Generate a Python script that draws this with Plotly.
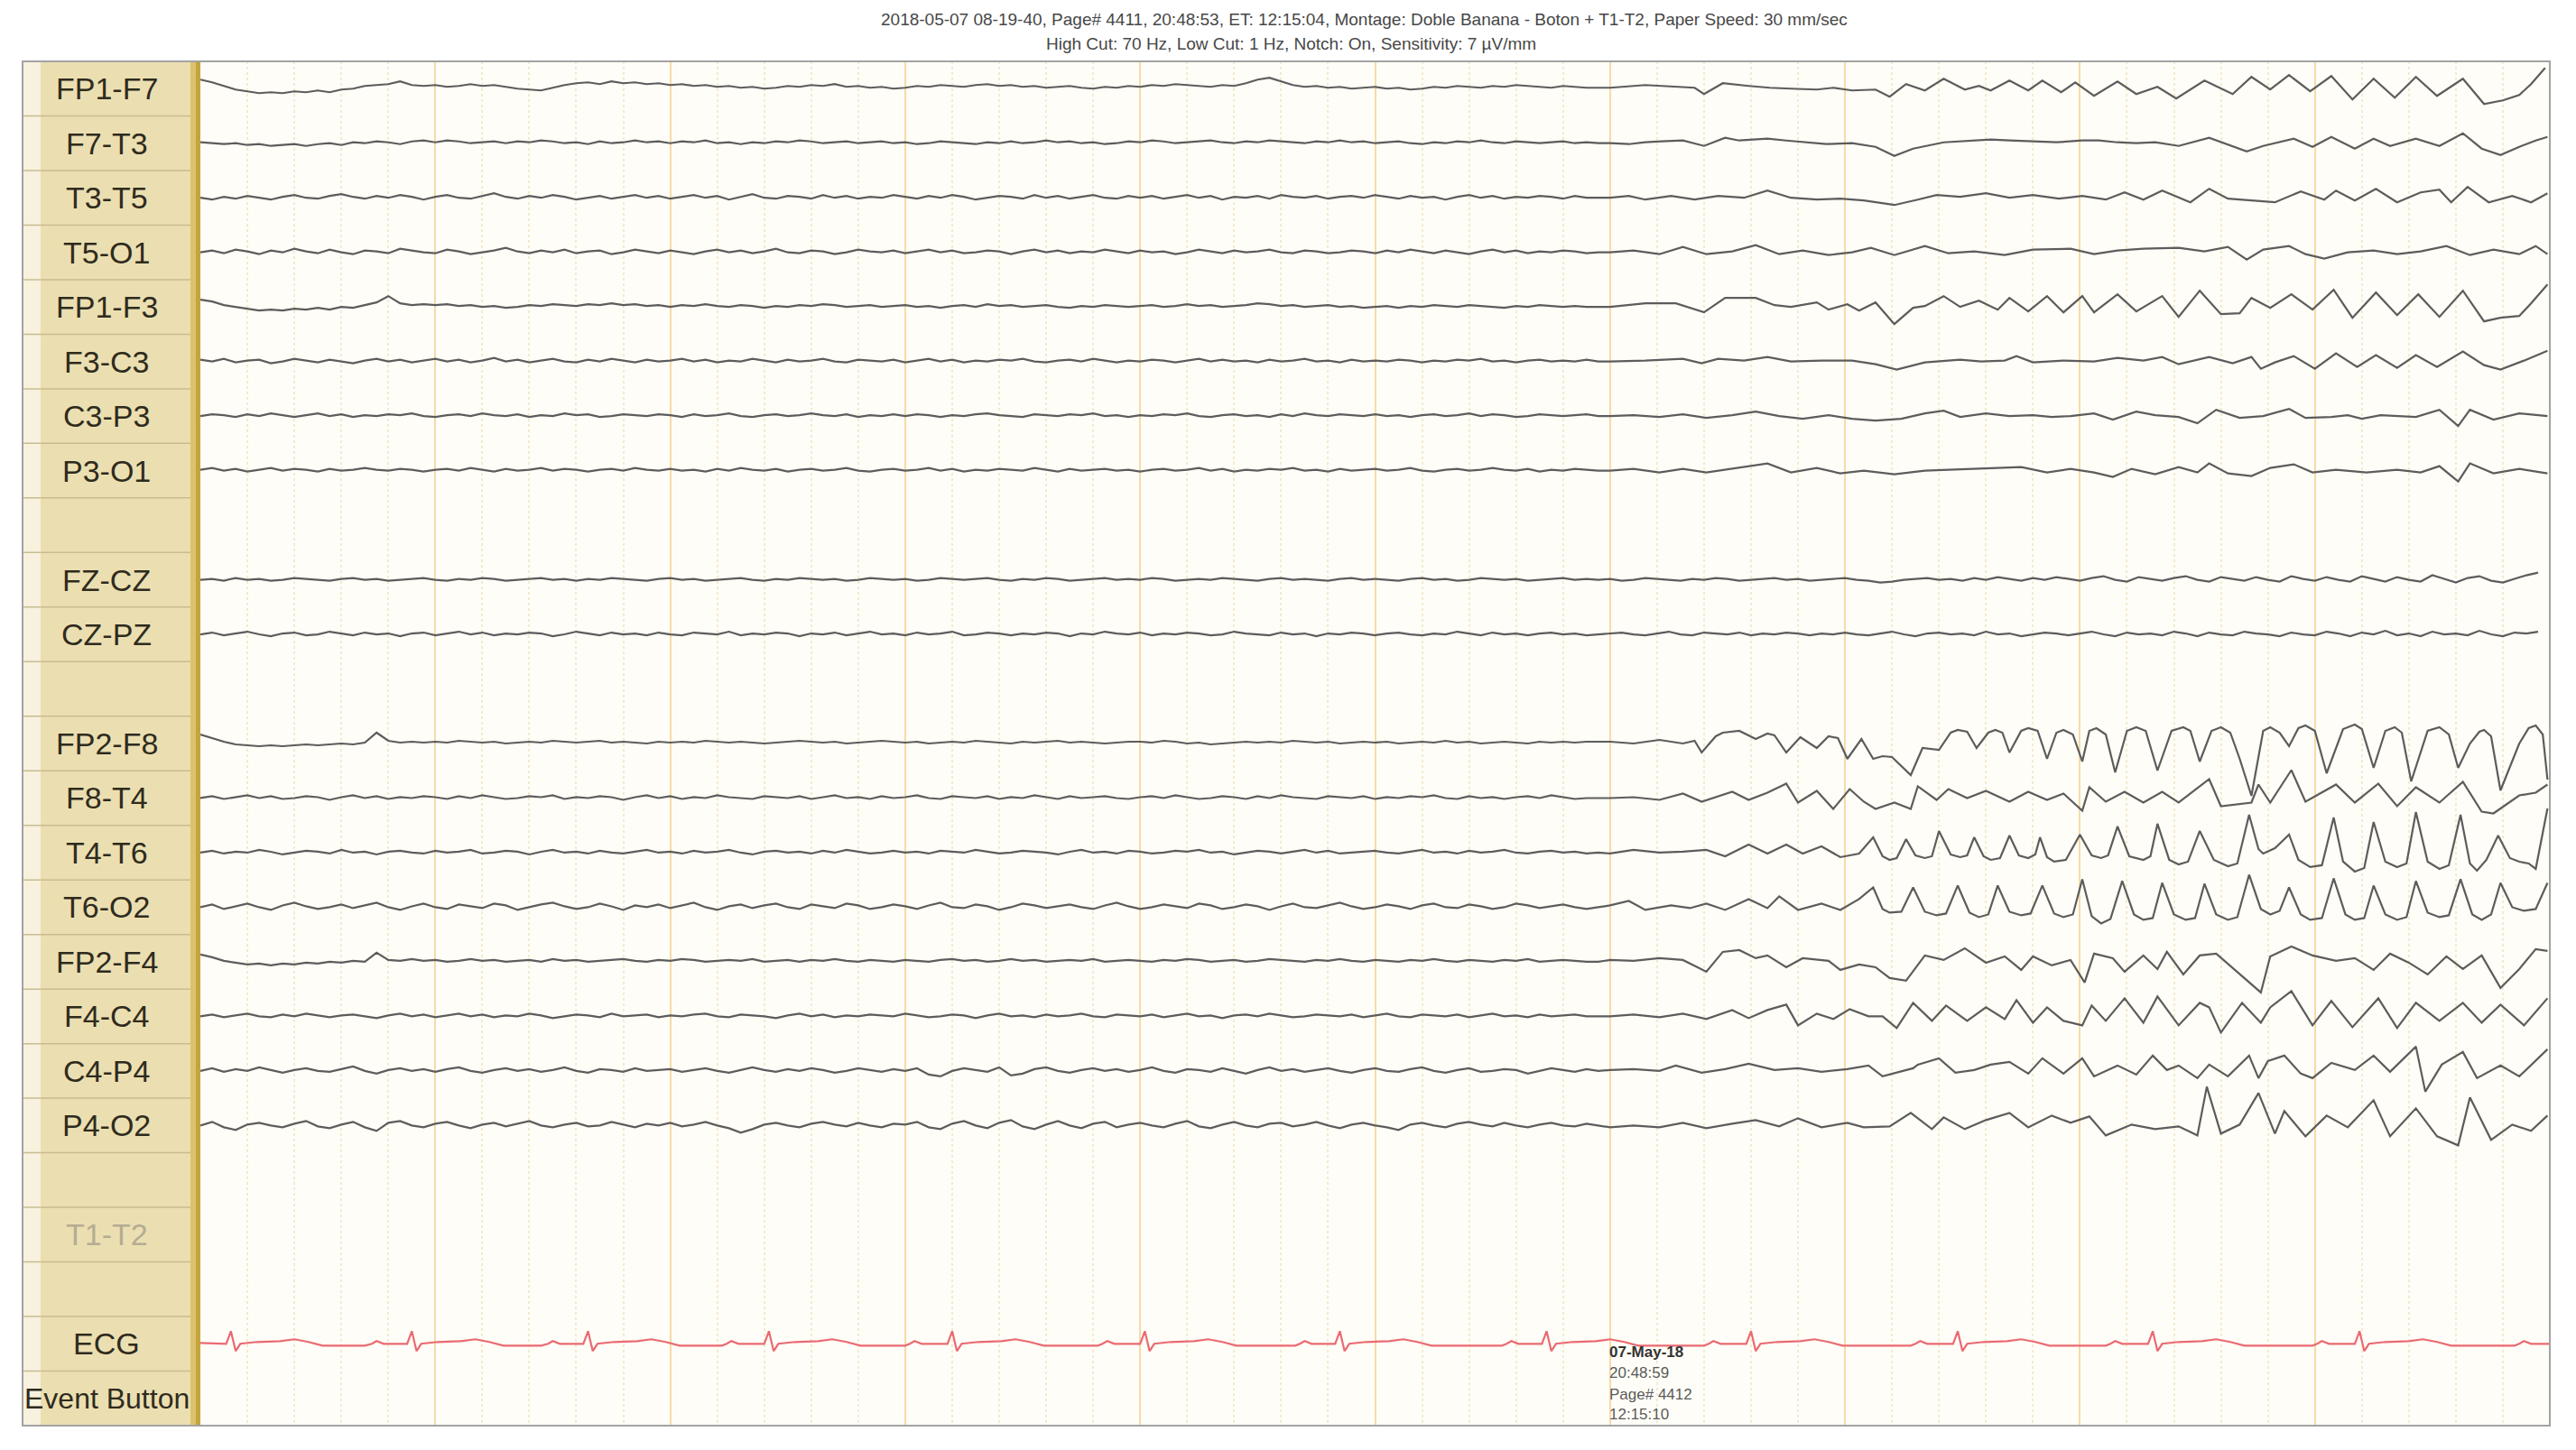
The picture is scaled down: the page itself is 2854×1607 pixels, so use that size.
import plotly.graph_objects as go

# ---------------- layout data ----------------
ROW_LABELS = ["FP1-F7", "F7-T3", "T3-T5", "T5-O1", "FP1-F3", "F3-C3", "C3-P3", "P3-O1", "",
              "FZ-CZ", "CZ-PZ", "", "FP2-F8", "F8-T4", "T4-T6", "T6-O2", "FP2-F4", "F4-C4",
              "C4-P4", "P4-O2", "", "T1-T2", "", "ECG", "Event Button"]
DIMMED_LABELS = ["T1-T2"]
HEADER_1 = "2018-05-07 08-19-40, Page# 4411, 20:48:53, ET: 12:15:04, Montage: Doble Banana - Boton + T1-T2, Paper Speed: 30 mm/sec"
HEADER_2 = "High Cut: 70 Hz, Low Cut: 1 Hz, Notch: On, Sensitivity: 7 \u00b5V/mm"
PAGE_MARK = ["<b>07-May-18</b>", "20:48:59", "Page# 4412", "12:15:10"]
PAGE_MARK_TIME = 6.0
SECONDS = 10.0
STEP = 0.05          # background sample step (s)
PX_PER_ROW = 60.48   # vertical deflection units per channel row

# ---------------- EEG values ----------------
# *_bg : deflection every 0.05 s from t=0 ; *_sz : (centisecond, deflection) turning points
fp1_f7_bg = [10,7,3,-1,-3,-5,-4,-5,-3,-4,-2,-4,-1,0,3,4,5,8,4,3,
             4,2,3,5,3,4,2,0,-1,-2,1,4,6,7,5,8,6,7,5,6,
             4,5,3,4,2,3,1,2,0,1,3,2,4,3,5,2,3,1,2,0,
             1,3,2,4,3,2,4,5,3,4,2,3,1,2,3,1,0,2,1,3,
             2,4,3,5,4,3,2,4,3,6,10,12,8,4,2,3,1,2,0,1,
             2,0,1,-1,0,2,1,3,2,1,3,2,4,3,2,1,3,2,1,1]
fp1_f7_sz = [(600,1),(615,4),(636,1),(640,-6),(648,6),(659,3),(668,1),(677,0),(688,-1),(695,1),(703,-2),
             (713,-1),(719,-9),(726,5),(734,-2),(742,11),(751,-1),(757,3),(762,-2),(770,9),(778,-2),
             (784,9),(792,-4),(798,7),(806,-8),(816,8),(824,-6),(833,2),(841,-11),(853,9),(865,-6),
             (873,13),(881,-1),(889,15),(898,-3),(907,14),(916,-12),(925,11),(934,-10),(943,13),
             (952,-8),(963,11),(972,-17),(980,-13),(987,-7),(992,5),(998,23)]

f7_t3_bg = [1,0,-1,0,-2,-1,-3,-2,-1,-3,-1,0,-2,1,0,2,1,-1,2,3,
            1,3,2,0,1,2,0,2,1,3,2,0,1,-1,2,0,1,3,1,2,
            0,2,1,3,0,1,-1,1,0,2,1,3,2,0,1,2,0,1,2,0,
            1,-1,0,2,1,0,-1,1,0,2,0,1,3,1,2,0,1,-1,0,2,
            1,3,2,0,1,2,3,1,0,2,1,3,2,1,0,2,1,3,1,2,
            0,1,2,0,-1,1,0,2,1,3,1,0,2,1,0,1,2,0,1,0]
f7_t3_sz = [(600,0),(608,-1),(615,1),(622,2),(631,3),(640,-3),(649,6),(655,3),(667,5),(675,3),(685,1),
            (692,-1),(703,0),(713,-4),(721,-14),(729,-6),(742,1),(750,2),(762,4),(770,3),(780,2),
            (790,1),(801,3),(808,3),(816,1),(824,0),(832,1),(842,-3),(855,6),(871,-9),(878,-3),
            (891,5),(899,-4),(907,7),(917,-6),(925,5),(932,-3),(943,5),(953,-3),(963,11),(971,-6),
            (979,-13),(987,-4),(994,3),(999,7)]

t3_t5_bg = [0,-2,1,-1,2,0,-2,1,3,0,-1,2,4,1,-1,2,0,3,1,-2,
            1,3,0,-1,2,5,1,-1,2,0,3,1,-2,0,2,-1,1,3,0,2,
            -1,1,3,0,2,-2,1,4,0,-1,2,1,-1,3,0,2,-1,1,0,3,
            1,-1,2,0,3,1,-2,0,2,1,-1,3,0,2,-1,1,3,0,-1,2,
            0,2,-1,1,3,0,2,-2,1,0,2,-1,3,1,0,2,-1,1,2,0,
            3,1,-1,2,0,1,-2,1,3,0,2,-1,1,0,2,1,-1,2,0,0]
t3_t5_sz = [(600,0),(608,2),(615,-2),(626,2),(636,-2),(646,2),(657,0),(667,8),(677,0),(688,-2),(698,-1),
            (708,-3),(721,-8),(731,-2),(739,3),(749,1),(760,5),(770,0),(780,3),(791,-1),(801,2),
            (811,-2),(819,6),(827,-2),(835,8),(847,-5),(855,10),(863,-1),(873,-3),(883,-5),(894,7),
            (904,-2),(909,8),(917,-3),(926,10),(935,-5),(945,6),(953,9),(958,-5),(965,12),(974,-5),
            (984,2),(992,-5),(999,5)]

t5_o1_bg = [0,2,-1,3,1,-2,2,0,4,1,-1,3,0,-2,2,1,-1,4,2,0,
            -1,3,1,-2,0,2,5,1,-1,2,0,3,-1,1,2,-2,0,3,1,-1,
            2,0,-2,1,3,0,2,-1,1,4,0,-1,2,1,-2,0,3,1,0,2,
            -1,1,3,0,2,-1,0,2,1,-2,1,3,0,2,-1,1,0,3,1,-1,
            2,0,1,-2,0,3,1,-1,2,0,1,3,0,-1,2,1,-1,0,2,1,
            -1,2,0,3,1,-1,2,0,-2,1,3,0,2,-1,1,0,2,1,-1,0]
t5_o1_sz = [(600,0),(610,2),(621,-2),(631,6),(641,-2),(652,1),(662,8),(672,-2),(682,2),(693,-3),(703,0),
            (711,5),(721,-3),(734,7),(744,-1),(755,1),(768,-3),(780,3),(796,4),(806,-2),(816,2),
            (827,4),(842,5),(853,1),(863,6),(871,-8),(878,3),(889,7),(896,-2),(904,-7),(914,0),
            (925,2),(935,-2),(945,1),(956,7),(966,-3),(976,3),(987,-2),(994,7),(999,-2)]

fp1_f3_bg = [8,6,2,0,-2,-4,-3,-4,-2,-3,-1,-3,0,-1,2,5,12,4,2,3,
             2,3,1,2,0,1,-1,0,2,1,3,2,1,3,2,4,2,3,1,2,
             0,2,1,3,1,0,2,1,-1,1,0,2,1,3,2,0,1,2,0,1,
             2,0,1,-1,1,2,0,3,1,2,0,1,2,0,-1,1,0,2,1,0,
             1,2,0,1,3,1,2,0,1,2,4,3,1,2,0,1,2,0,1,-1,
             0,1,-1,1,0,2,1,0,2,1,0,-1,1,0,2,1,0,1,0,0]
fp1_f3_sz = [(600,0),(615,4),(628,4),(640,-6),(649,10),(662,10),(670,2),(677,0),(688,5),(693,-3),(701,3),
             (706,-4),(713,5),(721,-19),(729,-1),(734,1),(742,12),(749,0),(757,7),(765,-3),(770,10),
             (778,-5),(786,12),(793,-6),(801,12),(806,-6),(816,14),(824,-5),(835,12),(842,-11),
             (851,18),(860,-8),(868,-7),(873,10),(881,-1),(890,14),(899,-3),(908,19),(916,-12),
             (926,16),(935,-9),(944,14),(953,-11),(963,18),(972,-16),(979,-12),(987,-10),(992,4),(999,25)]

f3_c3_bg = [2,0,3,-1,1,2,-2,0,3,1,-1,2,0,-2,1,3,0,2,-1,1,
            3,0,2,-1,1,4,0,2,-1,1,3,0,-1,2,0,3,1,-1,2,0,
            1,3,0,2,-1,1,0,3,1,-1,2,0,1,3,0,-1,2,1,0,2,
            -1,1,3,0,2,-1,1,0,2,1,3,0,-1,1,2,0,3,1,-1,1,
            0,2,1,-1,1,3,0,2,0,1,-1,2,0,1,3,0,1,-1,2,0,
            1,0,2,1,-1,1,0,2,1,3,0,1,-1,1,2,0,1,0,2,0]
f3_c3_sz = [(600,0),(615,1),(631,3),(639,-2),(646,3),(657,1),(667,5),(677,0),(690,1),(703,1),(713,-3),
            (722,-9),(734,-1),(749,2),(758,0),(768,1),(773,6),(780,-1),(793,1),(806,0),(816,4),
            (827,1),(835,5),(842,-3),(855,5),(865,-2),(873,5),(877,-8),(883,-1),(891,6),(900,-8),
            (909,9),(918,-6),(926,7),(935,-7),(943,7),(952,-6),(963,11),(972,-4),(979,-9),(989,1),(999,12)]

c3_p3_bg = [0,2,1,-1,2,0,3,1,-1,1,3,0,2,-1,1,0,2,1,3,0,
            -1,1,2,0,3,1,0,2,-1,1,0,3,1,2,-1,0,2,1,0,2,
            1,-1,2,0,1,3,0,-1,1,2,0,1,3,1,0,2,-1,1,0,2,
            0,2,1,-1,1,0,2,3,1,0,-1,2,1,0,2,1,3,0,1,-1,
            1,0,2,1,3,0,-1,1,2,0,1,-1,2,0,3,1,0,2,1,0,
            2,0,1,-1,1,2,0,1,3,0,2,1,-1,0,2,1,0,1,2,0]
c3_p3_sz = [(600,0),(610,1),(621,-1),(631,2),(641,-2),(652,1),(662,5),(672,0),(682,-3),(693,1),(703,-3),
            (713,-5),(724,-3),(734,3),(742,6),(749,-1),(760,3),(770,0),(780,1),(788,-1),(796,0),
            (806,3),(814,-4),(824,5),(832,1),(842,-1),(850,-8),(858,7),(868,-2),(878,0),(889,8),
            (896,-2),(907,-1),(914,1),(920,-3),(928,1),(935,0),(943,-1),(953,7),(961,-11),(966,7),
            (976,-4),(987,3),(999,0)]

p3_o1_bg = [1,3,0,2,-1,1,3,0,2,1,-1,2,0,1,3,1,0,2,1,-1,
            1,2,0,3,1,-1,2,0,1,3,0,2,1,-1,1,2,0,3,1,0,
            2,0,1,-1,2,0,3,1,0,2,-1,1,2,0,1,3,0,-1,1,2,
            0,1,3,0,2,-1,1,0,2,1,0,3,1,-1,2,0,1,2,0,1,
            -1,1,2,0,1,3,0,2,-1,1,0,2,1,3,0,1,-1,2,0,1,
            2,0,1,3,0,-1,1,2,0,1,3,1,0,2,-1,1,0,2,1,0]
p3_o1_sz = [(600,0),(610,2),(621,-2),(631,2),(641,-2),(652,2),(667,8),(677,-2),(688,3),(698,-3),(708,0),
            (721,-4),(734,0),(744,1),(755,2),(765,3),(775,4),(786,-2),(796,2),(806,-2),(814,-7),
            (822,2),(832,-4),(842,4),(850,-2),(855,8),(863,-3),(873,-6),(881,3),(891,7),(899,-2),
            (909,1),(922,-2),(935,1),(945,-2),(953,5),(961,-12),(966,8),(976,-3),(987,2),(999,-3)]

fz_cz_bg = [0,1,-1,2,0,1,-1,0,2,1,0,-1,1,2,0,1,-1,0,1,2,
            0,-1,1,0,2,1,-1,0,1,2,0,1,-1,1,0,2,1,0,-1,1,
            2,0,1,-1,0,1,2,0,-1,1,0,2,1,0,1,-1,0,2,1,0,
            1,-1,0,2,1,0,1,2,0,-1,1,0,2,1,-1,0,1,2,0,1,
            0,2,1,-1,0,1,0,2,1,0,-1,1,2,0,1,0,-1,1,2,0,
            1,0,-1,1,2,0,1,-1,0,2,1,0,1,-1,0,1,2,0,1,0,
            1,-1,0,2,1,0,-1,1,0,2,1,-1,0,1,2,0,1,-1,0,1,
            2,0,-1,-3,-2,0,1,2,0,1,-1,2,0,3,1,-1,2,0,3,1,
            -1,2,4,0,-2,3,1,-1,2,4,0,-2,3,1,-1,3,0,-2,4,1,
            -1,3,0,-2,4,1,-2,3,0,-2,5,1,-3,2,4,-1,-3,1,5,8]
fz_cz_sz = []

cz_pz_bg = [0,2,-1,1,3,0,-2,1,2,-1,0,3,1,-1,2,0,1,-2,1,2,
            -1,1,3,0,2,-1,1,0,2,1,-2,0,3,1,-1,2,0,1,-1,2,
            0,-1,2,1,0,3,-1,1,0,2,1,-2,1,0,2,-1,1,3,0,1,
            -1,2,0,1,3,-1,0,2,1,-1,1,0,2,1,-2,1,0,3,1,0,
            2,-1,1,0,2,1,-1,0,3,1,0,-1,2,0,1,-2,1,0,2,1,
            -1,1,2,0,-1,1,0,3,1,-1,2,0,1,-1,1,2,0,1,-1,0,
            1,2,0,-1,1,3,0,-1,2,1,0,2,-1,1,0,2,1,-1,1,0,
            2,0,-1,1,3,0,-2,1,2,0,1,-1,3,0,1,-2,0,2,1,-1,
            1,3,0,-2,2,0,1,-1,3,1,-2,2,0,-1,3,1,0,-2,2,0,
            -1,3,1,-2,2,0,4,-1,1,-2,3,0,1,-1,4,0,-2,2,1,3]
cz_pz_sz = []

fp2_f8_bg = [10,6,2,-1,-2,-3,-2,-3,-2,-1,-2,-1,0,-1,1,12,3,1,2,1,
             2,1,3,2,1,2,0,1,2,1,3,2,1,2,3,1,2,1,0,2,
             1,2,1,3,2,1,2,1,0,1,2,3,2,1,2,0,1,2,3,2,
             1,2,0,1,2,1,3,2,1,0,2,1,2,3,1,2,1,0,1,2,
             2,1,3,2,0,1,-1,0,1,2,1,2,1,3,2,1,2,0,1,2,
             1,2,0,1,2,1,3,1,2,0,1,2,1,0,2,1,2,1,2,2]
fp2_f8_sz = [(600,2),(610,0),(621,4),(631,0),(636,3),(639,-10),(645,8),(648,12),(652,13),(655,14),
             (662,5),(667,11),(670,9),(675,-10),(681,7),(688,-5),(693,8),(697,6),(701,-17),(707,5),
             (712,-17),(716,-14),(720,-15),(728,-35),(733,-5),(740,-7),(745,12),(748,15),(752,13),
             (756,-5),(761,12),(764,15),(767,12),(770,-10),(775,14),(778,17),(782,14),(786,-17),
             (790,12),(793,15),(797,10),(801,-20),(804,14),(807,17),(811,10),(815,-32),(820,14),
             (824,18),(828,14),(833,-30),(839,14),(844,18),(847,14),(851,-20),(856,14),(860,18),
             (864,12),(868,-17),(873,-58),(878,14),(881,18),(885,12),(889,-3),(893,17),(896,20),
             (900,14),(905,-33),(912,16),(917,21),(920,16),(925,-27),(930,14),(934,18),(937,12),
             (941,-42),(948,14),(953,18),(957,10),(961,-27),(966,0),(970,13),(972,15),(975,8),
             (979,-52),(987,0),(991,17),(994,20),(997,10),(999,-40)]

f8_t4_bg = [0,2,-1,1,3,0,2,-1,0,2,1,-2,1,3,0,2,-1,1,0,2,
            1,-1,2,0,3,1,-1,0,2,1,3,-1,1,0,2,1,-2,1,3,0,
            2,-1,1,0,3,1,0,-1,2,1,0,2,-1,1,3,0,1,-1,2,0,
            1,3,0,-1,2,1,0,2,-1,1,0,3,1,-1,2,0,1,2,0,-1,
            1,2,0,3,1,-1,0,2,1,-1,2,0,3,1,0,-1,2,1,0,2,
            -1,1,0,2,1,3,0,-1,2,0,1,-1,1,2,0,3,1,-1,0,0]
f8_t4_sz = [(600,0),(610,1),(621,-2),(631,5),(639,-4),(652,7),(659,-2),(667,6),(675,16),(680,-5),
            (688,8),(695,-12),(702,10),(708,-4),(713,-12),(721,-5),(728,-12),(731,13),(739,-2),
            (744,10),(752,0),(760,8),(770,-4),(778,7),(786,-2),(793,5),(801,-14),(804,12),(811,-4),
            (819,7),(827,-5),(835,7),(842,-5),(855,21),(860,-9),(873,-5),(876,15),(881,-5),(890,31),
            (896,-4),(909,15),(917,-5),(927,16),(935,-9),(943,12),(953,-5),(963,18),(971,-15),
            (976,-17),(987,3),(994,6),(999,15)]

t4_t6_bg = [0,2,-1,1,0,3,1,-2,0,2,1,-1,3,0,1,-2,1,2,0,-1,
            2,0,1,3,-1,0,2,1,-2,1,3,0,1,-1,2,0,-1,1,3,0,
            1,-1,2,0,1,3,0,-2,1,2,0,1,-1,2,0,3,1,-1,0,2,
            0,1,-1,2,1,0,3,1,-1,0,2,1,0,-2,1,3,0,1,-1,2,
            1,-1,0,2,1,3,0,1,-2,0,2,1,-1,1,3,0,2,-1,0,1,
            2,0,-1,1,3,0,1,-1,2,0,1,3,0,-1,1,2,0,1,-1,0]
t4_t6_sz = [(600,-1),(610,3),(621,0),(631,1),(641,3),(649,-4),(659,9),(667,-1),(675,9),(682,-1),
            (690,7),(698,-5),(706,-1),(712,17),(716,-4),(719,-8),(722,-6),(726,15),(730,-3),(734,-6),
            (737,-4),(740,24),(745,-2),(749,-5),(752,-3),(755,17),(759,-4),(762,-8),(766,-6),(770,19),
            (774,-3),(778,-6),(781,-2),(783,17),(786,-5),(789,-10),(794,-8),(800,20),(805,-3),(809,-6),
            (812,-3),(816,29),(821,-4),(827,-8),(830,-4),(833,32),(838,-8),(842,-13),(846,-10),(851,24),
            (857,-8),(863,-15),(867,-12),(872,42),(876,4),(878,-1),(883,5),(889,20),(893,-8),(898,-16),
            (903,-14),(908,39),(912,-10),(917,-21),(921,-17),(925,34),(930,-10),(935,-16),(939,-12),
            (943,45),(948,-10),(953,-18),(957,-14),(962,42),(966,-12),(969,-20),(973,-8),(978,19),
            (983,-6),(987,-10),(991,-12),(994,-18),(999,49)]

t6_o2_bg = [0,3,-2,1,4,0,-3,2,5,1,-2,0,3,-1,2,5,0,-3,1,4,
            0,-2,3,1,-1,4,2,-3,0,3,5,1,-2,0,4,1,-3,2,0,3,
            -1,2,5,0,-3,1,3,-1,2,4,0,-2,3,1,-1,4,2,-2,0,3,
            1,-2,2,5,0,-1,3,1,-3,0,4,2,-1,1,3,0,-2,2,5,1,
            -2,0,3,1,-1,4,2,-2,0,3,1,-3,1,4,0,-1,2,5,1,-2,
            0,3,1,-2,2,4,0,-1,3,1,-2,0,4,2,-1,1,3,0,-2,0]
t6_o2_sz = [(600,2),(608,7),(615,-3),(626,2),(634,-1),(641,4),(649,-3),(659,9),(667,-1),(672,12),
            (680,-3),(690,4),(698,-3),(706,9),(712,22),(716,-2),(719,-6),(724,-5),(729,22),(734,-5),
            (739,-9),(743,-7),(748,24),(753,-6),(757,-11),(761,-8),(765,24),(770,-5),(775,-9),
            (779,-7),(784,24),(789,-7),(793,-11),(797,-8),(801,31),(805,-10),(809,-18),(813,-13),
            (818,29),(823,-8),(827,-14),(831,-12),(835,27),(840,-8),(845,-14),(849,-12),(853,26),
            (858,-8),(863,-14),(867,-11),(872,36),(877,-2),(881,-8),(885,-4),(889,22),(894,-8),
            (898,-14),(903,-12),(908,32),(913,-8),(917,-14),(921,-12),(925,24),(930,-8),(935,-14),
            (939,-11),(943,29),(948,-6),(953,-11),(957,-9),(962,31),(967,-8),(971,-14),(975,-8),
            (979,27),(984,0),(989,-4),(994,-2),(999,27)]

fp2_f4_bg = [8,5,1,-1,-3,-2,-4,-2,-3,-1,-2,0,-1,1,0,10,2,1,3,1,
             2,0,1,3,1,2,0,1,2,0,3,1,2,0,1,2,3,1,0,2,
             1,3,2,0,1,2,1,3,0,1,2,0,2,1,3,1,0,2,1,0,
             2,1,0,2,3,1,2,0,1,3,1,2,0,1,2,1,3,0,1,2,
             1,0,2,1,3,2,0,1,2,0,1,3,2,1,0,2,1,3,1,0,
             2,1,0,2,1,3,1,0,2,1,0,2,1,3,0,1,2,1,0,0]
fp2_f4_sz = [(600,2),(610,1),(621,4),(631,2),(641,-11),(648,11),(655,13),(662,4),(667,7),(675,-6),
             (682,4),(693,1),(698,-9),(706,-3),(713,-6),(719,-18),(726,-21),(734,7),(742,2),(751,15),
             (760,-1),(768,6),(775,-9),(780,6),(788,-4),(796,2),(802,-23),(806,9),(814,4),(819,-11),
             (827,7),(833,-8),(837,11),(844,-14),(851,7),(858,9),(869,-16),(877,-34),(881,6),(890,17),
             (899,7),(909,1),(917,4),(925,-9),(932,9),(940,-1),(948,-14),(956,6),(963,-8),(971,7),
             (979,-29),(987,-8),(994,14),(999,12)]

f4_c4_bg = [0,2,-1,1,3,0,-1,2,0,3,1,-1,1,2,0,-2,1,3,0,2,
            -1,1,3,0,2,-1,1,0,3,1,-2,0,2,1,-1,3,0,1,2,-1,
            1,0,2,3,0,-1,2,1,0,-2,1,3,0,2,-1,1,0,2,1,0,
            3,1,-1,0,2,1,-2,1,3,0,1,-1,2,0,1,3,0,-1,2,1,
            0,2,-1,1,3,0,1,-2,1,2,0,3,1,-1,0,2,1,0,2,-1,
            1,3,0,-1,2,1,0,2,-1,1,3,0,1,-1,2,0,1,2,0,0]
f4_c4_sz = [(600,0),(610,2),(621,-1),(631,3),(641,-3),(652,7),(659,-2),(667,7),(675,13),(680,-10),
            (688,3),(695,-3),(702,8),(710,0),(716,0),(722,-13),(729,15),(737,-5),(743,12),(752,-5),
            (760,10),(768,-3),(773,18),(780,-7),(786,10),(793,-5),(801,-10),(805,12),(811,-5),
            (819,20),(827,-7),(833,22),(842,-10),(851,15),(855,10),(860,-18),(869,15),(877,-7),
            (881,10),(890,28),(899,-10),(907,17),(916,-12),(927,20),(935,-13),(943,15),(953,-5),
            (963,15),(971,-7),(979,13),(989,-10),(999,20)]

c4_p4_bg = [0,3,-1,2,0,4,1,-2,1,3,0,-1,2,5,0,-3,1,3,0,2,
            -1,2,4,0,-2,1,3,0,2,-1,1,4,0,-2,2,1,-1,3,0,1,
            2,-1,1,3,0,-2,1,4,1,-1,2,0,3,1,-2,0,3,1,-1,2,
            0,3,-4,-6,0,3,1,-1,4,-5,-3,2,4,0,-2,1,3,0,2,-1,
            1,4,0,-2,2,1,-1,3,0,-3,1,4,0,2,-1,1,3,0,-2,1,
            3,0,-1,2,4,0,-2,1,3,-1,0,2,1,-3,0,3,1,-1,2,0]
c4_p4_sz = [(600,1),(610,2),(621,0),(628,6),(639,-2),(649,2),(659,8),(670,1),(680,3),(690,-1),
            (701,2),(710,6),(716,-6),(729,3),(731,7),(740,14),(747,-2),(755,1),(762,7),(770,10),
            (778,-3),(784,14),(793,-3),(801,14),(806,-6),(816,6),(824,-4),(831,17),(837,1),(842,6),
            (850,-8),(855,7),(863,-6),(872,17),(876,-8),(880,11),(887,17),(894,-3),(899,-8),(907,9),
            (917,1),(925,17),(932,-1),(943,27),(947,-23),(954,7),(963,21),(969,-8),(979,6),(987,-6),
            (999,24)]

p4_o2_bg = [0,4,-2,-5,1,3,0,-2,2,5,-1,-3,1,4,-2,-6,3,5,0,-2,
            2,4,0,-3,1,3,-1,2,5,0,-2,1,3,-1,0,4,1,-2,2,0,
            3,-1,1,4,0,-3,-8,-4,1,3,0,-2,2,4,1,-1,3,0,-2,2,
            1,4,-2,-4,2,5,0,-3,3,6,-1,-4,1,5,0,-3,2,4,-2,1,
            3,0,-2,2,5,-1,-3,1,4,0,-2,2,3,-1,1,4,0,-3,1,3,
            0,-2,-5,1,3,0,-2,2,4,1,-1,3,0,-2,1,3,0,-1,2,0]
p4_o2_sz = [(600,-2),(610,0),(621,-2),(631,3),(641,-3),(652,2),(662,6),(672,-1),(680,8),(690,-2),
            (701,3),(708,-2),(719,-1),(728,14),(737,-4),(742,9),(751,-4),(760,6),(770,14),(778,-2),
            (788,11),(796,3),(804,10),(811,-11),(822,1),(832,-4),(842,-1),(850,-11),(854,43),
            (860,-9),(868,1),(876,36),(883,-9),(887,16),(896,-12),(905,11),(914,-2),(925,28),
            (932,-12),(943,19),(952,-12),(961,-22),(966,31),(975,-16),(984,1),(992,-6),(999,11)]

# ---------------- ECG values (centisecond, deflection) ----------------
ecg_pts = [(0,1),(8,0),(11,0),(13,14),(15,-8),(17,0),(24,2),(34,3),(40,5),(46,2),(52,-2),(70,-2),
           (73,0),(75,3),(78,0),(88,0),(90,14),(92,-8),(94,0),(101,2),(111,3),(117,5),(123,2),(129,-2),
           (145,-2),(148,0),(150,3),(153,0),(163,0),(165,14),(167,-8),(169,0),(176,2),(186,3),(192,5),
           (198,2),(204,-2),(222,-2),(224,0),(226,3),(229,0),(240,0),(242,14),(244,-8),(246,0),(253,2),
           (263,3),(269,5),(275,2),(281,-2),(300,-2),(302,0),(304,3),(307,0),(318,0),(320,14),(322,-8),
           (324,0),(331,2),(341,3),(347,5),(353,2),(359,-2),(382,-2),(384,0),(386,3),(389,0),(400,0),
           (402,14),(404,-8),(406,0),(413,2),(423,3),(429,5),(435,2),(441,-2),(466,-2),(468,0),(470,3),
           (473,0),(483,0),(485,14),(487,-8),(489,0),(496,2),(506,3),(512,5),(518,2),(524,-2),(554,-2),
           (556,0),(558,3),(561,0),(571,0),(573,14),(575,-8),(577,0),(584,2),(594,3),(600,5),(606,2),
           (612,-2),(640,-2),(642,0),(644,3),(647,0),(658,0),(660,14),(662,-8),(664,0),(671,2),(681,3),
           (687,5),(693,2),(699,-2),(728,-2),(730,0),(732,3),(735,0),(746,0),(748,14),(750,-8),(752,0),
           (759,2),(769,3),(775,5),(781,2),(787,-2),(811,-2),(813,0),(815,3),(818,0),(829,0),(831,14),
           (833,-8),(835,0),(842,2),(852,3),(858,5),(864,2),(870,-2),(899,-2),(901,0),(903,3),(906,0),
           (917,0),(919,14),(921,-8),(923,0),(930,2),(940,3),(946,5),(952,2),(958,-2),(985,-2),(987,0),
           (989,3),(992,0),(1000,0)]
ECG_ROW = 23

EEG_CHANNELS = [
    ("FP1-F7", fp1_f7_bg, fp1_f7_sz), ("F7-T3", f7_t3_bg, f7_t3_sz),
    ("T3-T5", t3_t5_bg, t3_t5_sz), ("T5-O1", t5_o1_bg, t5_o1_sz),
    ("FP1-F3", fp1_f3_bg, fp1_f3_sz), ("F3-C3", f3_c3_bg, f3_c3_sz),
    ("C3-P3", c3_p3_bg, c3_p3_sz), ("P3-O1", p3_o1_bg, p3_o1_sz),
    ("FZ-CZ", fz_cz_bg, fz_cz_sz), ("CZ-PZ", cz_pz_bg, cz_pz_sz),
    ("FP2-F8", fp2_f8_bg, fp2_f8_sz), ("F8-T4", f8_t4_bg, f8_t4_sz),
    ("T4-T6", t4_t6_bg, t4_t6_sz), ("T6-O2", t6_o2_bg, t6_o2_sz),
    ("FP2-F4", fp2_f4_bg, fp2_f4_sz), ("F4-C4", f4_c4_bg, f4_c4_sz),
    ("C4-P4", c4_p4_bg, c4_p4_sz), ("P4-O2", p4_o2_bg, p4_o2_sz),
]

# ---------------- figure ----------------
N_ROWS = len(ROW_LABELS)
fig = go.Figure()

for name, bg, sz in EEG_CHANNELS:
    row = ROW_LABELS.index(name)
    t = [i * STEP for i in range(len(bg))] + [c / 100 for c, _ in sz]
    v = list(bg) + [d for _, d in sz]
    y = [row + 0.5 - d / PX_PER_ROW for d in v]
    fig.add_trace(go.Scatter(x=t, y=y, mode="lines", name=name,
                             line=dict(color="#5c5c5c", width=2.2), hoverinfo="skip"))

fig.add_trace(go.Scatter(x=[c / 100 for c, _ in ecg_pts],
                         y=[ECG_ROW + 0.5 - d / PX_PER_ROW for _, d in ecg_pts],
                         mode="lines", name="ECG", line=dict(color="#ea6a72", width=2.2),
                         hoverinfo="skip"))

# geometry (figure is 2838x1591, placed at 8px body margin)
W, H = 2838, 1591
ML, MR, MT, MB = 214, 21, 60, 19
plot_w = W - ML - MR
plot_h = H - MT - MB
col_left = -197 / plot_w      # label column left edge (paper)
strip_r = -177 / plot_w
gold_l = -11 / plot_w
gold_m = -5 / plot_w

shapes = []
shapes.append(dict(type="rect", xref="paper", yref="paper", x0=col_left, x1=0, y0=0, y1=1,
                   fillcolor="#ebdfb1", line=dict(width=0), layer="below"))
shapes.append(dict(type="rect", xref="paper", yref="paper", x0=col_left, x1=strip_r, y0=0, y1=1,
                   fillcolor="#f7f1de", line=dict(width=0), layer="below"))
shapes.append(dict(type="rect", xref="paper", yref="paper", x0=gold_l, x1=gold_m, y0=0, y1=1,
                   fillcolor="#dcc26e", line=dict(width=0), layer="below"))
shapes.append(dict(type="rect", xref="paper", yref="paper", x0=gold_m, x1=0, y0=0, y1=1,
                   fillcolor="#c6a33e", line=dict(width=0), layer="below"))
for i in range(1, N_ROWS):
    yy = 1 - i / N_ROWS
    shapes.append(dict(type="line", xref="paper", yref="paper", x0=col_left, x1=gold_l, y0=yy, y1=yy,
                       line=dict(color="#c9bc90", width=1.5)))
shapes.append(dict(type="rect", xref="paper", yref="paper", x0=col_left, x1=1, y0=0, y1=1,
                   line=dict(color="#a3a3a3", width=2), fillcolor="rgba(0,0,0,0)"))

annotations = []
for i, lab in enumerate(ROW_LABELS):
    if not lab:
        continue
    annotations.append(dict(x=(col_left + gold_l) / 2, y=1 - (i + 0.5) / N_ROWS, xref="paper", yref="paper",
                            text=lab, showarrow=False, xanchor="center", yanchor="middle",
                            font=dict(family="Liberation Sans, Arial, sans-serif",
                                      size=32 if len(lab) > 8 else 34,
                                      color="#b4ac92" if lab in DIMMED_LABELS else "#2f2b1d")))
annotations.append(dict(x=(1511 - 222) / plot_w, y=1 + (1580 - 22 - 1512) / plot_h, xref="paper", yref="paper",
                        text=HEADER_1, showarrow=False, xanchor="center", yanchor="middle",
                        font=dict(family="Liberation Sans, Arial, sans-serif", size=19, color="#474747")))
annotations.append(dict(x=(1430 - 222) / plot_w, y=1 + (1580 - 49 - 1512) / plot_h, xref="paper", yref="paper",
                        text=HEADER_2, showarrow=False, xanchor="center", yanchor="middle",
                        font=dict(family="Liberation Sans, Arial, sans-serif", size=19, color="#474747")))
mark_y = [1498, 1521, 1545, 1567]
for txt, yy in zip(PAGE_MARK, mark_y):
    annotations.append(dict(x=PAGE_MARK_TIME - 0.012, y=(yy - 68) / PX_PER_ROW, xref="x", yref="y",
                            text=txt, showarrow=False, xanchor="left", yanchor="middle",
                            font=dict(family="Liberation Sans, Arial, sans-serif", size=17,
                                      color="#333333" if txt.startswith("<b>") else "#5a5a5a")))

fig.update_layout(
    width=W, height=H, autosize=False,
    margin=dict(l=ML, r=MR, t=MT, b=MB, pad=0),
    paper_bgcolor="white", plot_bgcolor="#fffdf7",
    showlegend=False, shapes=shapes, annotations=annotations,
    xaxis=dict(range=[0, SECONDS], showticklabels=False, ticks="", zeroline=False,
               showgrid=True, dtick=1, tick0=0, gridcolor="#f5dba9", gridwidth=2,
               minor=dict(dtick=0.2, tick0=0, showgrid=True, gridcolor="#f3ebcf",
                          griddash="dot", gridwidth=1.5),
               showline=False, fixedrange=True),
    yaxis=dict(range=[N_ROWS, 0], showticklabels=False, ticks="", zeroline=False,
               showgrid=False, showline=False, fixedrange=True),
)

fig.write_html("out.html")
